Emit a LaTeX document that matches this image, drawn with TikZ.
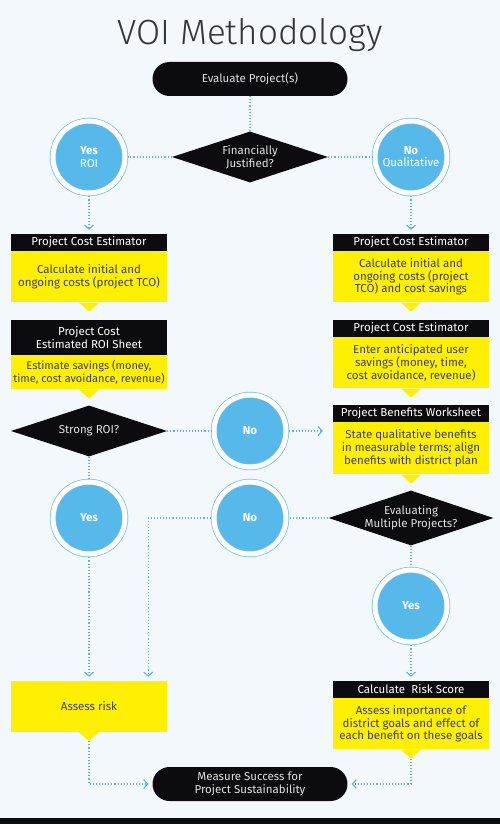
\documentclass[tikz,border=0pt]{standalone}
\usepackage{fontspec}
\setmainfont{Fira Sans}
\newfontfamily\titlefont{Fira Sans Light}
\usetikzlibrary{positioning,shapes.geometric,arrows.meta}
\definecolor{bgblue}{HTML}{F2F8FC}
\definecolor{yel}{HTML}{FFEF00}
\definecolor{blk}{HTML}{0C0C10}
\definecolor{circblue}{HTML}{56B9E9}
\definecolor{ringblue}{HTML}{6DBDE8}
\definecolor{dotblue}{HTML}{5DB3E5}
\definecolor{bodytxt}{HTML}{3C3F58}
\definecolor{titlegray}{HTML}{33353A}
\tikzset{
  txt/.style={font=\fontsize{11.5}{12.7}\selectfont},
  hdr/.style={txt, fill=blk, text=white, minimum width=156pt, minimum height=17pt, inner sep=0pt, align=center},
  bodybox/.style={txt, fill=yel, text=bodytxt, minimum width=156pt, inner sep=0pt, align=center},
  pill/.style={txt, fill=blk, text=white!88!black, rounded corners=17pt, minimum width=195pt, minimum height=34pt, align=center},
  decision/.style={txt, diamond, aspect=3, fill=blk, text=white!88!black, minimum width=156pt, minimum height=51pt, inner sep=0pt, align=center},
  yesno/.style={txt, circle, fill=circblue, text=white, minimum size=72pt, inner sep=0pt, align=center,
    draw=ringblue, line width=0.7pt, double=white, double distance=5pt, outer sep=3.3pt},
  flow/.style={dotblue, line width=1.1pt, dash pattern=on 1.1pt off 2pt},
  arr/.style={-{Straight Barb[length=4pt,width=9pt]}, shorten >=4pt}
}
\begin{document}
\begin{tikzpicture}[x=1pt, y=-1pt]
  \useasboundingbox (0,0) rectangle (500,829);
  \fill[bgblue] (0,0) rectangle (500,829);
  \fill[blk] (0,818) rectangle (500,824);
  \fill[white] (0,824) rectangle (500,829);

  \node[font=\titlefont\fontsize{35}{38}\selectfont, text=titlegray, anchor=base] (title) at (250,45) {VOI Methodology};

  % start and decision
  \node[pill] (eval) at (250,79) {Evaluate Project(s)};
  \node[decision] (fin) at (250,157) {Financially\\Justified?};
  \node[yesno] (yesROI) at (89,157) {\textbf{Yes}\\ROI};
  \node[yesno] (noQual) at (411,157) {\textbf{No}\\Qualitative};

  % left column
  \node[hdr] (lhdrA) at (89,242.5) {Project Cost Estimator};
  \node[bodybox, minimum height=51pt, below=0pt of lhdrA] (lbodyA) {Calculate initial and\\ongoing costs (project TCO)};
  \node[hdr, minimum height=35pt] (lhdrB) at (89,337.5) {Project Cost\\Estimated ROI Sheet};
  \node[bodybox, minimum height=34pt, below=0pt of lhdrB, font=\fontsize{11}{12.7}\selectfont] (lbodyB) {Estimate savings (money,\\time, cost avoidance, revenue)};
  \node[decision] (strong) at (89,431) {Strong ROI?};
  \node[yesno] (yesL) at (89,518) {\textbf{Yes}};
  \node[bodybox, minimum height=51pt] (assess) at (89,706.5) {Assess risk};

  % middle circles
  \node[yesno] (noA) at (250,431) {\textbf{No}};
  \node[yesno] (noB) at (250,518) {\textbf{No}};

  % right column
  \node[hdr] (rhdrA) at (411,242.5) {Project Cost Estimator};
  \node[bodybox, minimum height=51pt, below=0pt of rhdrA] (rbodyA) {Calculate initial and\\ongoing costs (project\\TCO) and cost savings};
  \node[hdr] (rhdrB) at (411,328.5) {Project Cost Estimator};
  \node[bodybox, minimum height=51pt, below=0pt of rhdrB] (rbodyB) {Enter anticipated user\\savings (money, time,\\cost avoidance, revenue)};
  \node[hdr] (rhdrC) at (411,413.5) {Project Benefits Worksheet};
  \node[bodybox, minimum height=52pt, below=0pt of rhdrC] (rbodyC) {State qualitative benefits\\in measurable terms; align\\benefits with district plan};
  \node[decision] (multi) at (411,518) {Evaluating\\Multiple Projects?};
  \node[yesno] (yesR) at (411,606) {\textbf{Yes}};
  \node[hdr] (rhdrD) at (411,689.5) {Calculate\ \ Risk Score};
  \node[bodybox, minimum height=51pt, below=0pt of rhdrD] (rbodyD) {Assess importance of\\district goals and effect of\\each benefit on these goals};

  \node[pill] (measure) at (250,784) {Measure Success for\\Project Sustainability};

  % pointers under the yellow boxes
  \foreach \b in {lbodyA,lbodyB,assess,rbodyA,rbodyB,rbodyC,rbodyD}
    \fill[yel] ([xshift=-10pt]\b.south) -- ([yshift=-9pt]\b.south) -- ([xshift=10pt]\b.south) -- cycle;

  % connectors
  \draw[flow] (eval) -- (fin);
  \draw[flow] (fin) -- (yesROI);
  \draw[flow] (fin) -- (noQual);
  \draw[flow,arr] (yesROI) -- (lhdrA);
  \draw[flow,arr] (noQual) -- (rhdrA);
  \draw[flow] (strong) -- (noA);
  \draw[flow,arr, shorten >=10pt] (noA.east) -- (noA.east -| rbodyC.west);
  \draw[flow] (strong) -- (yesL);
  \draw[flow,arr] (yesL) -- (assess);
  \draw[flow] (multi) -- (noB);
  \draw[flow,arr] (noB.west) -| ([xshift=-19pt]assess.north east);
  \draw[flow] (multi) -- (yesR);
  \draw[flow,arr] (yesR) -- (rhdrD);
  \draw[flow,arr] ([yshift=-9pt]assess.south) |- (measure.west);
  \draw[flow,arr] ([yshift=-9pt]rbodyD.south) |- (measure.east);
\end{tikzpicture}
\end{document}
